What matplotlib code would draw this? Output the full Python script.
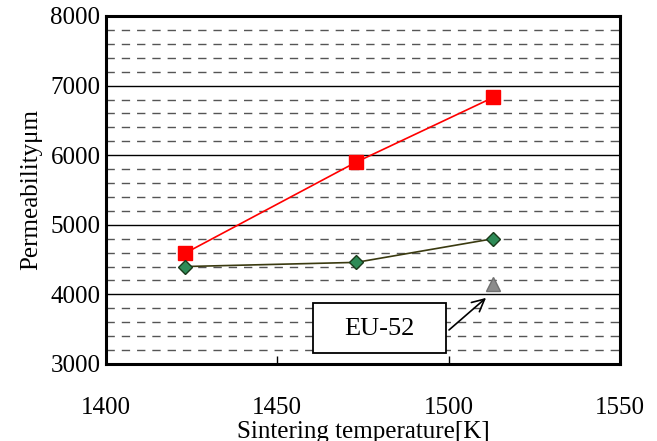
import numpy as np
import matplotlib
matplotlib.use("Agg")
import matplotlib.pyplot as plt
from matplotlib.ticker import MultipleLocator
from matplotlib.patches import Rectangle

plt.rcParams['font.family'] = ['Liberation Serif', 'DejaVu Serif']

# data
temp = [1423, 1473, 1513]
perm_red = [4590, 5900, 6830]
perm_green = [4400, 4460, 4800]
eu_temp = [1513]
eu_perm = [4150]

fig = plt.figure(figsize=(6.57, 4.41), dpi=100)
ax = fig.add_axes([106/657, 1 - 364/441, (620-106)/657, (364-16)/441])

ax.set_xlim(1400, 1550)
ax.set_ylim(3000, 8000)
ax.xaxis.set_major_locator(MultipleLocator(50))
ax.yaxis.set_major_locator(MultipleLocator(1000))
ax.yaxis.set_minor_locator(MultipleLocator(200))

ax.grid(True, which='major', axis='y', color='black', lw=1.0, zorder=0)
ax.grid(True, which='minor', axis='y', color='#555555', lw=1.0,
        linestyle=(0, (6, 5)), zorder=0)

ax.plot(temp, perm_red, color='red', lw=1.2, marker='s', ms=10,
        mfc='red', mec='red', zorder=3)
ax.plot(temp, perm_green, color='#3a3a10', lw=1.2, marker='D', ms=7,
        mfc='#2e8b57', mec='#1a3a1a', mew=1, zorder=3)
ax.plot(eu_temp, eu_perm, ls='none', marker='^', ms=10,
        mfc='#8c8c8c', mec='#707070', zorder=3)

# label box
ax.add_patch(Rectangle((1460.3, 3160), 39.0, 715, fc='white', ec='black',
                       lw=1.3, zorder=4))
ax.text(1479.8, 3510, 'EU-52', fontsize=19, ha='center', va='center', zorder=5)
ax.annotate('', xy=(1510.9, 3950), xytext=(1500.1, 3489),
            arrowprops=dict(arrowstyle='->', color='black', lw=1.2,
                            mutation_scale=22, shrinkA=0, shrinkB=0),
            zorder=5)

for s in ax.spines.values():
    s.set_linewidth(2.2)
    s.set_color('black')

ax.tick_params(axis='x', which='major', direction='in', length=6, width=1,
               labelsize=18, pad=24)
ax.tick_params(axis='y', which='major', direction='in', length=0,
               labelsize=18, pad=4)
ax.tick_params(axis='y', which='minor', length=0)

ax.set_xlabel('Sintering temperature[K]', fontsize=18, labelpad=1)
ax.set_ylabel('Permeability\u03bcm', fontsize=18, labelpad=6)

fig.savefig('out.png', dpi=100)
